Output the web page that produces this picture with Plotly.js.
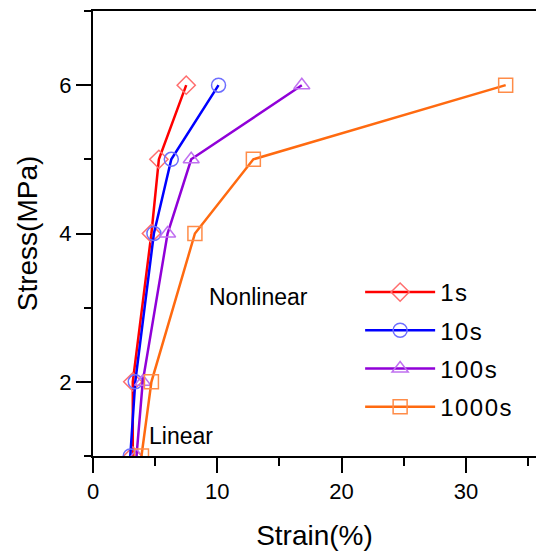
<!DOCTYPE html>
<html>
<head>
<meta charset="utf-8">
<script src="https://cdn.plot.ly/plotly-3.0.1.min.js"></script>
<style>html,body{margin:0;padding:0;background:#fff;}#chart{width:536px;height:552px;}
#chart .legendtext{letter-spacing:1.5px;}</style>
</head>
<body>
<div id="chart"></div>
<script>
// Stress levels (MPa)
const stress = [1, 2, 4, 5, 6];
// Strain (%) for each loading duration
const strain1s = [3.2, 3.2, 4.7, 5.3, 7.5];
const strain10s = [3.0, 3.4, 4.9, 6.3, 10.1];
const strain100s = [3.5, 4.0, 6.0, 7.9, 16.8];
const strain1000s = [3.9, 4.7, 8.2, 12.9, 33.2];
const seriesNames = ['1s', '10s', '100s', '1000s'];

const lineColors = ['#ff0000', '#0000ff', '#9000d8', '#ff6a10'];
const markerColors = ['#ff6e6e', '#6e6eff', '#c070f0', '#ff8c48'];
const symbols = ['diamond-open', 'circle-open', 'triangle-up-open', 'square-open'];
const allStrain = [strain1s, strain10s, strain100s, strain1000s];

const traces = allStrain.map((xs, i) => ({
  x: xs, y: stress, name: seriesNames[i], type: 'scatter', mode: 'lines+markers',
  legendgroup: 'g' + i,
  line: {color: lineColors[i], width: 2.5},
  marker: {symbol: symbols[i], size: 14, color: markerColors[i], line: {width: 1.5}}
}));

const font = 'Arial, "Liberation Sans", Helvetica, sans-serif';
const layout = {
  width: 536, height: 552,
  margin: {l: 93, r: 0, t: 11, b: 96},
  paper_bgcolor: '#fff', plot_bgcolor: '#fff',
  font: {family: font, color: '#000', size: 22},
  showlegend: true,
  legend: {x: 0.603, y: 0.418, xanchor: 'left', yanchor: 'top', font: {size: 24}, tracegroupgap: 4, itemwidth: 70, bgcolor: 'rgba(0,0,0,0)'},
  xaxis: {
    range: [0, 35.64], showgrid: false, zeroline: false,
    showline: true, linecolor: '#000', linewidth: 2, mirror: true,
    ticks: 'outside', ticklen: 15, tickwidth: 2, tickcolor: '#000',
    dtick: 10, tick0: 0, tickfont: {size: 22},
    minor: {ticks: 'outside', ticklen: 8, tickwidth: 2, tickcolor: '#000', dtick: 5, showgrid: false},
    title: {text: 'Strain(%)', font: {size: 28}, standoff: 22}
  },
  yaxis: {
    range: [1, 7], showgrid: false, zeroline: false,
    showline: true, linecolor: '#000', linewidth: 2,
    ticks: 'outside', ticklen: 15, tickwidth: 2, tickcolor: '#000',
    dtick: 2, tick0: 0, tickfont: {size: 22},
    minor: {ticks: 'outside', ticklen: 7, tickwidth: 2, tickcolor: '#000', dtick: 1, showgrid: false},
    title: {text: 'Stress(MPa)', font: {size: 28}, standoff: 14}
  },
  annotations: [
    {x: 9.17, y: 3.14, xref: 'x', yref: 'y', text: 'Nonlinear', showarrow: false, xanchor: 'left', yanchor: 'middle', font: {size: 23}},
    {x: 4.34, y: 1.27, xref: 'x', yref: 'y', text: 'Linear', showarrow: false, xanchor: 'left', yanchor: 'middle', font: {size: 23}}
  ]
};

Plotly.newPlot('chart', traces, layout, {displayModeBar: false, staticPlot: true});
</script>
</body>
</html>
